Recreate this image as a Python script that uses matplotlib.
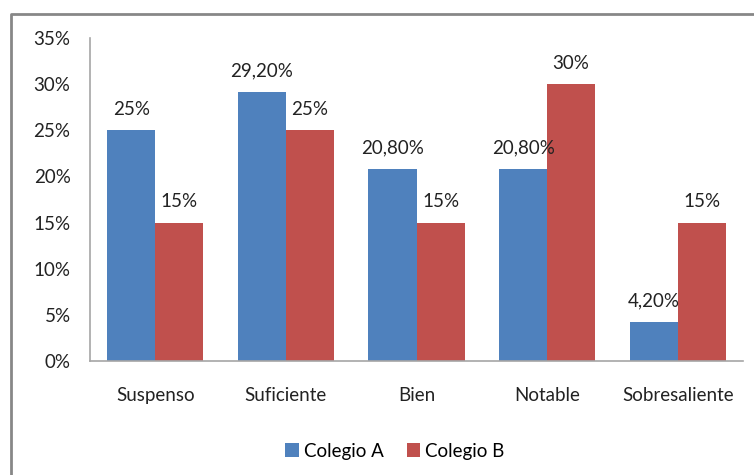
import matplotlib.pyplot as plt
import numpy as np

plt.rcParams['font.family'] = ['Liberation Sans Narrow', 'Lato', 'DejaVu Sans']

categories = ['Suspenso', 'Suficiente', 'Bien', 'Notable', 'Sobresaliente']
colegio_a = [0.25, 0.292, 0.208, 0.208, 0.042]
colegio_b = [0.15, 0.25, 0.15, 0.30, 0.15]
labels_a = ['25%', '29,20%', '20,80%', '20,80%', '4,20%']
labels_b = ['15%', '25%', '15%', '30%', '15%']
yticks = [0, 0.05, 0.10, 0.15, 0.20, 0.25, 0.30, 0.35]
ytick_labels = ['0%', '5%', '10%', '15%', '20%', '25%', '30%', '35%']

blue = '#4F81BD'
red = '#C0504D'
axis_grey = '#A6A6A6'
fs = 13.5

fig = plt.figure(figsize=(7.54, 4.75), dpi=100)
ax = fig.add_axes([90 / 754, 114 / 475, 653 / 754, 323 / 475])

x = np.arange(len(categories))
w = 0.368
bars_a = ax.bar(x - w / 2, colegio_a, w, color=blue, label='Colegio A')
bars_b = ax.bar(x + w / 2, colegio_b, w, color=red, label='Colegio B')

# data labels above each bar
for bars, labs in ((bars_a, labels_a), (bars_b, labels_b)):
    for b, t in zip(bars, labs):
        ax.annotate(t, (b.get_x() + b.get_width() / 2, b.get_height()),
                    xytext=(0, 21), textcoords='offset pixels',
                    ha='center', va='center', fontsize=fs, color='#222222')

ax.set_xlim(-0.5, len(categories) - 0.5)
ax.set_ylim(0, 0.35)
ax.set_yticks(yticks)
ax.set_yticklabels(ytick_labels)
ax.set_xticks(x)
ax.set_xticklabels(categories)
ax.tick_params(axis='both', length=0, labelsize=fs, colors='#222222')
ax.tick_params(axis='x', pad=19)
ax.tick_params(axis='y', pad=14)

for s in ('top', 'right'):
    ax.spines[s].set_visible(False)
for s in ('left', 'bottom'):
    ax.spines[s].set_color(axis_grey)
    ax.spines[s].set_linewidth(1.2)

leg = fig.legend(loc='center', bbox_to_anchor=(395 / 754, 1 - 451 / 475), ncol=2,
                 frameon=False, fontsize=fs, handlelength=0.7, handleheight=0.7,
                 handletextpad=0.3, columnspacing=1.2)

# outer chart border (top and left visible, the rest is cropped)
fig.add_artist(plt.Line2D([11 / 754, 11 / 754, 1.0], [0, 1 - 14 / 475, 1 - 14 / 475],
                          transform=fig.transFigure, color='#878787', linewidth=2))

fig.savefig('out.png', dpi=100)
